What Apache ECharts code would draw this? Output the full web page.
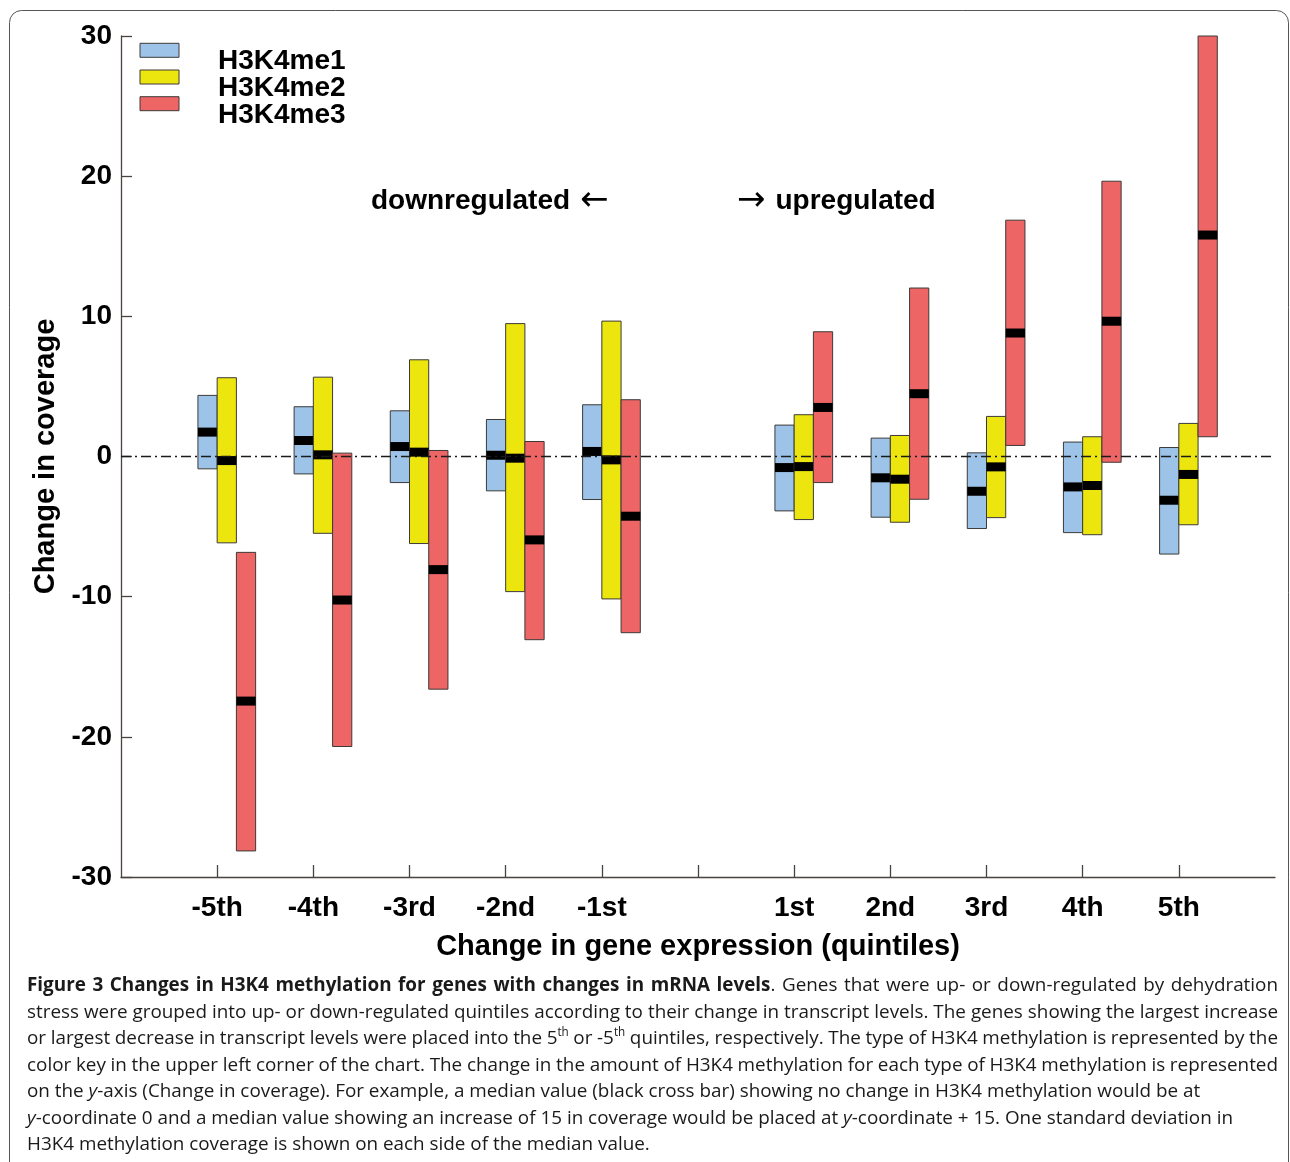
<!DOCTYPE html>
<html>
<head>
<meta charset="utf-8">
<script src="https://cdn.jsdelivr.net/npm/echarts@6/dist/echarts.min.js"></script>
<style>
html,body{margin:0;padding:0;background:#fff;}
#c{width:1290px;height:1162px;}
</style>
</head>
<body>
<div id="c"></div>
<script>
// ---------------- data ----------------
const quintiles = ['-5th','-4th','-3rd','-2nd','-1st','1st','2nd','3rd','4th','5th'];
const xPos = [1,2,3,4,5,7,8,9,10,11];          // axis slots (6 is the gap)
const seriesNames = ['H3K4me1','H3K4me2','H3K4me3'];
const seriesColors = ['#9dc4e8','#ece60e','#ee6565'];

// one standard deviation around the median: low, high, median
const me1Low    = [-0.88,-1.24,-1.86,-2.45,-3.07,-3.88,-4.33,-5.14,-5.43,-6.96];
const me1High   = [ 4.36, 3.55, 3.26, 2.64, 3.69, 2.24, 1.31, 0.26, 1.03, 0.64];
const me1Median = [ 1.74, 1.14, 0.71, 0.09, 0.36,-0.79,-1.52,-2.48,-2.17,-3.12];

const me2Low    = [-6.16,-5.48,-6.21,-9.64,-10.16,-4.50,-4.69,-4.36,-5.58,-4.87];
const me2High   = [ 5.62, 5.66, 6.90, 9.48, 9.66, 2.98, 1.50, 2.86, 1.41, 2.36];
const me2Median = [-0.29, 0.12, 0.31,-0.12,-0.24,-0.72,-1.62,-0.74,-2.07,-1.28];

const me3Low    = [-28.14,-20.69,-16.60,-13.07,-12.57,-1.86,-3.05, 0.79,-0.41, 1.41];
const me3High   = [ -6.84,  0.24,  0.43,  1.07,  4.05, 8.90,12.02,16.86,19.64,30.00];
const me3Median = [-17.45,-10.24, -8.07, -5.95, -4.26, 3.50, 4.48, 8.81, 9.65,15.80];

const yTicks = [-30,-20,-10,0,10,20,30];
const xAxisTitle = 'Change in gene expression (quintiles)';
const yAxisTitle = 'Change in coverage';
const annoDown = 'downregulated';
const annoUp = 'upregulated';

const captionLines = [
  '{b|Figure 3 Changes in H3K4 methylation for genes with changes in mRNA levels}. Genes that were up- or down-regulated by dehydration',
  'stress were grouped into up- or down-regulated quintiles according to their change in transcript levels. The genes showing the largest increase',
  'or largest decrease in transcript levels were placed into the 5{sup|th} or -5{sup|th} quintiles, respectively. The type of H3K4 methylation is represented by the',
  'color key in the upper left corner of the chart. The change in the amount of H3K4 methylation for each type of H3K4 methylation is represented',
  'on the {i|y}-axis (Change in coverage). For example, a median value (black cross bar) showing no change in H3K4 methylation would be at',
  '{i|y}-coordinate 0 and a median value showing an increase of 15 in coverage would be placed at {i|y}-coordinate + 15. One standard deviation in',
  'H3K4 methylation coverage is shown on each side of the median value.'
];
const captionJustify = [true,true,true,true,false,false,false];

// ---------------- layout / style ----------------
const FONT = '"Liberation Sans", Arial, Helvetica, sans-serif';
const CAP_FONT = '"Open Sans", "Noto Sans", sans-serif';
const BAR_W = 0.2;
const AXIS_COLOR = '#4a423e';

function buildData(lo, hi, md) {
  return xPos.map((x, i) => [x, lo[i], hi[i], md[i]]);
}
const allData = [
  buildData(me1Low, me1High, me1Median),
  buildData(me2Low, me2High, me2Median),
  buildData(me3Low, me3High, me3Median)
];

function makeRender(k) {
  return function (params, api) {
    const x = api.value(0), lo = api.value(1), hi = api.value(2), md = api.value(3);
    const x0 = x + (k - 1) * BAR_W;
    const p1 = api.coord([x0, hi]);
    const p2 = api.coord([x0 + BAR_W, lo]);
    const pm = api.coord([x0, md]);
    const cs = params.coordSys;
    const rect = echarts.graphic.clipRectByRect(
      {x: p1[0], y: p1[1], width: p2[0] - p1[0], height: p2[1] - p1[1]},
      {x: cs.x, y: cs.y, width: cs.width, height: cs.height}
    );
    return {
      type: 'group',
      children: [
        {type: 'rect', shape: rect, style: {fill: seriesColors[k], stroke: '#3c3a38', lineWidth: 1}},
        {type: 'rect', shape: {x: p1[0], y: pm[1] - 4.5, width: p2[0] - p1[0], height: 9}, style: {fill: '#000'}}
      ]
    };
  };
}

// ---------------- caption layout (justified like the figure) ----------------
const ctx = document.createElement('canvas').getContext('2d');
function fontStr(s, size) {
  if (s === 'b') return 'bold ' + size + 'px ' + CAP_FONT;
  if (s === 'i') return 'italic ' + size + 'px ' + CAP_FONT;
  if (s === 'sup') return (size * 0.62) + 'px ' + CAP_FONT;
  return size + 'px ' + CAP_FONT;
}
function parseWords(str) {
  const re = /\{(\w+)\|([^}]*)\}|([^{]+)/g;
  let m; const segs = [];
  while ((m = re.exec(str))) {
    if (m[3] !== undefined) segs.push({s: 'n', t: m[3]});
    else segs.push({s: m[1], t: m[2]});
  }
  const words = []; let cur = [];
  segs.forEach(seg => {
    seg.t.split(' ').forEach((p, i) => {
      if (i > 0) { if (cur.length) words.push(cur); cur = []; }
      if (p) cur.push({s: seg.s, t: p});
    });
  });
  if (cur.length) words.push(cur);
  return words;
}
function wordWidth(w, size) {
  let total = 0;
  w.forEach(seg => { ctx.font = fontStr(seg.s, size); total += ctx.measureText(seg.t).width; });
  return total;
}
function lineWidth(words, size) {
  ctx.font = fontStr('n', size);
  const sp = ctx.measureText(' ').width;
  return words.reduce((a, w) => a + wordWidth(w, size), 0) + sp * (words.length - 1);
}
const CAP_LEFT = 27, CAP_RIGHT = 1278, CAP_Y0 = 986, CAP_LH = 26.5;
const parsedLines = captionLines.map(parseWords);
// font size chosen so that the ragged last line has the same length as in the figure
let capSize = 100 * 623 / lineWidth(parsedLines[6], 100);
capSize = Math.max(14, Math.min(22, capSize));
const richStyles = {
  n: {fontSize: capSize, fontFamily: CAP_FONT, fill: '#1a1a1a', lineHeight: capSize * 1.3},
  b: {fontSize: capSize, fontFamily: CAP_FONT, fontWeight: 'bold', fill: '#1a1a1a', lineHeight: capSize * 1.3},
  i: {fontSize: capSize, fontFamily: CAP_FONT, fontStyle: 'italic', fill: '#1a1a1a', lineHeight: capSize * 1.3},
  sup: {fontSize: capSize * 0.62, fontFamily: CAP_FONT, fill: '#1a1a1a', verticalAlign: 'top', lineHeight: capSize * 0.62}
};
const captionGraphics = [];
parsedLines.forEach((words, li) => {
  const widths = words.map(w => wordWidth(w, capSize));
  ctx.font = fontStr('n', capSize);
  let gap = ctx.measureText(' ').width;
  if (captionJustify[li] && words.length > 1) {
    const sum = widths.reduce((a, b) => a + b, 0);
    gap = (CAP_RIGHT - CAP_LEFT - sum) / (words.length - 1);
  }
  let x = CAP_LEFT;
  words.forEach((w, wi) => {
    captionGraphics.push({
      type: 'text', x: x, y: CAP_Y0 + li * CAP_LH, silent: true,
      style: {
        text: w.map(seg => '{' + seg.s + '|' + seg.t + '}').join(''),
        rich: richStyles, align: 'left', verticalAlign: 'middle',
        fontSize: capSize, fontFamily: CAP_FONT, fill: '#1a1a1a'
      }
    });
    x += widths[wi] + gap;
  });
});

// legend drawn as key in the upper left corner
const legendGraphics = [];
seriesNames.forEach((name, i) => {
  legendGraphics.push({
    type: 'rect', shape: {x: 140, y: 43.3 + i * 26.7, width: 39, height: 14},
    style: {fill: seriesColors[i], stroke: '#3c3a38', lineWidth: 1}
  });
  legendGraphics.push({
    type: 'text', x: 218, y: 61 + i * 27,
    style: {text: name, fontSize: 28, fontWeight: 'bold', fontFamily: FONT, fill: '#000', align: 'left', verticalAlign: 'middle'}
  });
});

const annoRich = {
  t: {fontSize: 28, fontWeight: 'bold', fontFamily: FONT, fill: '#000'},
  a: {fontSize: 34, fontFamily: '"DejaVu Sans", sans-serif', fill: '#000'},
  s: {width: 10}
};

const chart = echarts.init(document.getElementById('c'));
const option = {
  backgroundColor: '#fff',
  animation: false,
  grid: {left: 121, right: 15, top: 36, bottom: 285, containLabel: false, outerBoundsMode: 'none'},
  xAxis: {
    type: 'value', min: 0, max: 12, interval: 1,
    axisLine: {show: true, onZero: false, lineStyle: {color: AXIS_COLOR, width: 1.3}},
    axisTick: {show: true, inside: true, length: 12, customValues: [1,2,3,4,5,6,7,8,9,10,11], lineStyle: {color: AXIS_COLOR, width: 1.3}},
    axisLabel: {
      customValues: xPos,
      formatter: v => { const i = xPos.indexOf(v); return i >= 0 ? quintiles[i] : ''; },
      fontSize: 28, fontWeight: 'bold', fontFamily: FONT, color: '#000', margin: 17
    },
    splitLine: {show: false},
    name: xAxisTitle, nameLocation: 'middle', nameGap: 55,
    nameTextStyle: {fontSize: 29, fontWeight: 'bold', fontFamily: FONT, color: '#000'}
  },
  yAxis: {
    type: 'value', min: yTicks[0], max: yTicks[yTicks.length - 1], interval: 10,
    axisLine: {show: true, onZero: false, lineStyle: {color: AXIS_COLOR, width: 1.3}},
    axisTick: {show: true, inside: true, length: 11, lineStyle: {color: AXIS_COLOR, width: 1.3}},
    axisLabel: {fontSize: 28, fontWeight: 'bold', fontFamily: FONT, color: '#000', margin: 9, padding: [7, 0, 0, 0]},
    splitLine: {show: false},
    name: yAxisTitle, nameLocation: 'middle', nameGap: 60,
    nameTextStyle: {fontSize: 29, fontWeight: 'bold', fontFamily: FONT, color: '#000'}
  },
  series: seriesNames.map((name, k) => ({
    type: 'custom', name: name, renderItem: makeRender(k),
    data: allData[k], encode: {x: 0, y: [1, 2, 3]}, z: 2, silent: true
  })).concat([{
    type: 'line', name: 'zero', data: [[0, 0], [12, 0]], symbol: 'none', z: 5, silent: true,
    lineStyle: {color: '#1a1a1a', width: 1.3, type: [10, 4, 2, 4]}
  }]),
  graphic: [
    {type: 'rect', shape: {x: 9.5, y: 10.5, width: 1279, height: 1250, r: 12}, style: {fill: 'none', stroke: '#555', lineWidth: 1}, silent: true, z: -1},
    {type: 'text', x: 371, y: 201, style: {text: '{t|' + annoDown + '}{s|}{a|\u2190}', rich: annoRich, align: 'left', verticalAlign: 'middle'}},
    {type: 'text', x: 737, y: 201, style: {text: '{a|\u2192}{s|}{t|' + annoUp + '}', rich: annoRich, align: 'left', verticalAlign: 'middle'}}
  ].concat(legendGraphics).concat(captionGraphics)
};
chart.setOption(option);
</script>
</body>
</html>
